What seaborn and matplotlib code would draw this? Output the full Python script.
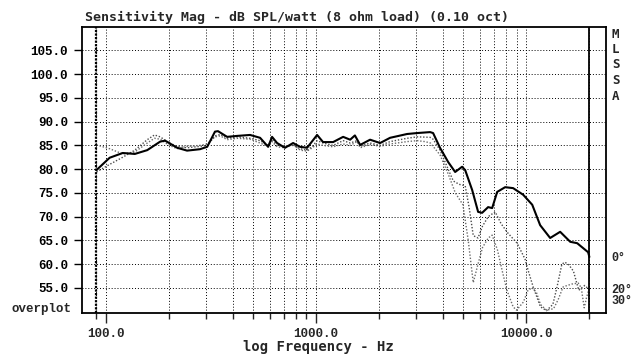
import numpy as np
import pandas as pd
import matplotlib
matplotlib.use("Agg")
import matplotlib.pyplot as plt
import seaborn as sns
from matplotlib.ticker import FixedLocator, FuncFormatter, NullFormatter

# 0 degree response (solid)
freq_0 = [90, 104, 120, 137, 157, 181, 191, 218, 243, 280, 303, 330, 341, 377, 421,
          485, 541, 591, 617, 652, 711, 777, 839, 906, 1011, 1079, 1205, 1345, 1452,
          1530, 1621, 1807, 2017, 2250, 2711, 3027, 3491, 3606, 3890, 4253, 4592,
          4955, 5125, 5534, 5907, 6170, 6592, 6890, 7278, 7943, 8670, 9683, 10690,
          11660, 13010, 14520, 16210, 17500, 19730, 20000]
spl_0 = [79.8, 82.4, 83.4, 83.2, 84.0, 85.8, 86.0, 84.5, 83.9, 84.2, 84.7, 87.9, 88.0,
         86.8, 87.0, 87.2, 86.6, 84.7, 86.8, 85.5, 84.5, 85.5, 84.7, 84.5, 87.2, 85.7,
         85.7, 86.8, 86.2, 87.1, 85.1, 86.2, 85.5, 86.6, 87.4, 87.6, 87.8, 87.6, 84.5,
         81.5, 79.4, 80.5, 79.8, 75.6, 71.0, 70.8, 72.0, 71.8, 75.2, 76.2, 76.0, 74.6,
         72.5, 68.2, 65.5, 66.8, 64.7, 64.4, 62.5, 61.5]

# 20 degree response (dotted)
freq_20 = [90, 104, 120, 137, 157, 170, 181, 200, 218, 243, 280, 303, 330, 350, 377,
           421, 485, 541, 591, 617, 652, 711, 777, 839, 906, 960, 1011, 1079, 1205,
           1345, 1452, 1568, 1621, 1807, 2017, 2250, 2711, 3027, 3491, 3606, 3890,
           4253, 4500, 4800, 5125, 5350, 5600, 5900, 6200, 6600, 7120, 7600, 8200,
           9060, 9890, 10200, 10800, 11700, 12500, 13400, 14000, 14800, 15300, 16000,
           16800, 17800, 19000, 20000]
spl_20 = [79.4, 81.0, 82.5, 84.0, 86.2, 87.2, 86.8, 85.5, 84.8, 84.5, 84.8, 85.0, 87.0,
          87.3, 86.5, 86.8, 86.5, 86.0, 85.0, 86.3, 85.0, 84.8, 85.0, 84.3, 84.0, 84.8,
          86.0, 85.5, 85.0, 86.0, 85.5, 86.0, 84.8, 85.5, 85.0, 85.8, 86.5, 86.8, 86.7,
          86.3, 84.0, 80.0, 77.5, 76.8, 76.5, 72.0, 66.0, 65.5, 68.0, 70.0, 71.0, 68.5,
          66.5, 64.4, 61.0, 58.8, 55.2, 51.0, 50.2, 51.5, 55.0, 60.0, 60.4, 59.8, 58.5,
          54.5, 55.5, 54.6]

# 30 degree response (dotted)
freq_30 = [90, 104, 120, 137, 157, 170, 181, 200, 218, 243, 280, 303, 330, 350, 377,
           421, 485, 541, 591, 617, 652, 711, 777, 839, 906, 960, 1011, 1079, 1205,
           1345, 1452, 1568, 1621, 1807, 2017, 2250, 2711, 3027, 3300, 3500, 3890,
           4253, 4600, 5000, 5300, 5600, 5900, 6200, 6600, 6890, 7300, 7700, 8100,
           8670, 9000, 9700, 10200, 10700, 11200, 11700, 12500, 13500, 14200, 15000,
           15700, 16500, 17700, 18300, 18900, 19400, 20000]
spl_30 = [85.1, 84.3, 83.2, 83.6, 85.5, 86.5, 86.3, 85.0, 84.3, 84.8, 85.0, 85.3, 86.8,
          87.0, 86.2, 86.5, 86.3, 85.5, 84.8, 85.8, 84.7, 84.5, 85.2, 84.0, 83.8, 84.5,
          85.3, 85.0, 84.7, 85.3, 85.0, 85.8, 84.5, 85.2, 84.8, 85.3, 85.8, 86.0, 85.8,
          85.5, 83.0, 79.0, 75.0, 72.5, 65.0, 56.1, 60.0, 63.5, 65.5, 66.1, 63.0, 58.5,
          54.5, 51.0, 50.3, 52.0, 54.5, 55.0, 54.0, 51.5, 50.3, 50.6, 52.5, 55.2, 55.5,
          55.8, 56.0, 55.0, 50.8, 53.0, 55.0]

y_ticks = [55, 60, 65, 70, 75, 80, 85, 90, 95, 100, 105]
x_major = [100, 1000, 10000]
x_minor = [90, 200, 300, 400, 500, 600, 700, 800, 900,
           2000, 3000, 4000, 5000, 6000, 7000, 8000, 9000, 20000]
right_letters = ["M", "L", "S", "S", "A"]
angle_labels = ["0°", "20°", "30°"]

W, H = 637, 363

def fx(x):
    return x / W

def fy(y):
    return 1 - y / H

sns.set_style("white")
plt.rcParams['font.family'] = ['Liberation Mono', 'DejaVu Sans Mono']
plt.rcParams['font.weight'] = 'bold'

fig = plt.figure(figsize=(6.37, 3.63), dpi=100)
ax = fig.add_axes([fx(82), fy(313), (606 - 82) / W, (313 - 26.7) / H])

sns.lineplot(x=freq_30, y=spl_30, ax=ax, color="#6a6a6a", lw=1.0,
             linestyle=(0, (1, 1.3)), estimator=None, sort=False)
sns.lineplot(x=freq_20, y=spl_20, ax=ax, color="#4a4a4a", lw=1.0,
             linestyle=(0, (1, 1.3)), estimator=None, sort=False)
sns.lineplot(x=freq_0, y=spl_0, ax=ax, color="black", lw=1.5,
             estimator=None, sort=False)

ax.set_xscale("log")
ax.set_xlim(76.8, 24000)
ax.set_ylim(49.7, 110)

ax.xaxis.set_major_locator(FixedLocator(x_major))
ax.xaxis.set_minor_locator(FixedLocator(x_minor))
ax.xaxis.set_major_formatter(FuncFormatter(lambda v, p: "%.1f" % v))
ax.xaxis.set_minor_formatter(NullFormatter())
ax.yaxis.set_major_locator(FixedLocator(y_ticks))
ax.yaxis.set_major_formatter(FuncFormatter(lambda v, p: "%.1f" % v))

ax.grid(which="both", axis="x", color="black", lw=0.7, linestyle=(0, (1, 2)))
ax.grid(which="major", axis="y", color="black", lw=0.7, linestyle=(0, (1, 2)))
ax.axvline(90, color="black", lw=1.6, linestyle=(0, (1, 0.6)))
ax.axvline(20000, color="black", lw=1.3)

ax.tick_params(axis="y", which="major", direction="out", length=6, width=1,
               left=True, labelsize=9, pad=4, colors="black")
ax.tick_params(axis="x", which="major", direction="out", length=7, width=1,
               bottom=True, labelsize=9, pad=4)
ax.tick_params(axis="x", which="minor", direction="out", length=4, width=1,
               bottom=True)
for s in ax.spines.values():
    s.set_color("black")
    s.set_linewidth(1.3)

ax.set_xlabel("")
ax.set_ylabel("")

fig.text(fx(85), fy(17), "Sensitivity Mag - dB SPL/watt (8 ohm load) (0.10 oct)",
         family="DejaVu Sans Mono", fontsize=9.5, fontweight="bold",
         ha="left", va="center")
fig.text(fx(318), fy(347), "log Frequency - Hz", family="DejaVu Sans Mono",
         fontsize=10, fontweight="bold", ha="center", va="center")
fig.text(fx(72), fy(309), "overplot", fontsize=9, fontweight="bold",
         ha="right", va="center")

for i, letter in enumerate(right_letters):
    fig.text(fx(612), fy(34 + i * 15.5), letter, family="DejaVu Sans Mono",
             fontsize=9, fontweight="bold", ha="left", va="center")

for lab, yy in zip(angle_labels, [258, 290, 301]):
    fig.text(fx(611), fy(yy), lab, fontsize=8.5, fontweight="bold",
             ha="left", va="center")

fig.savefig("out.png", dpi=100, facecolor="white")
